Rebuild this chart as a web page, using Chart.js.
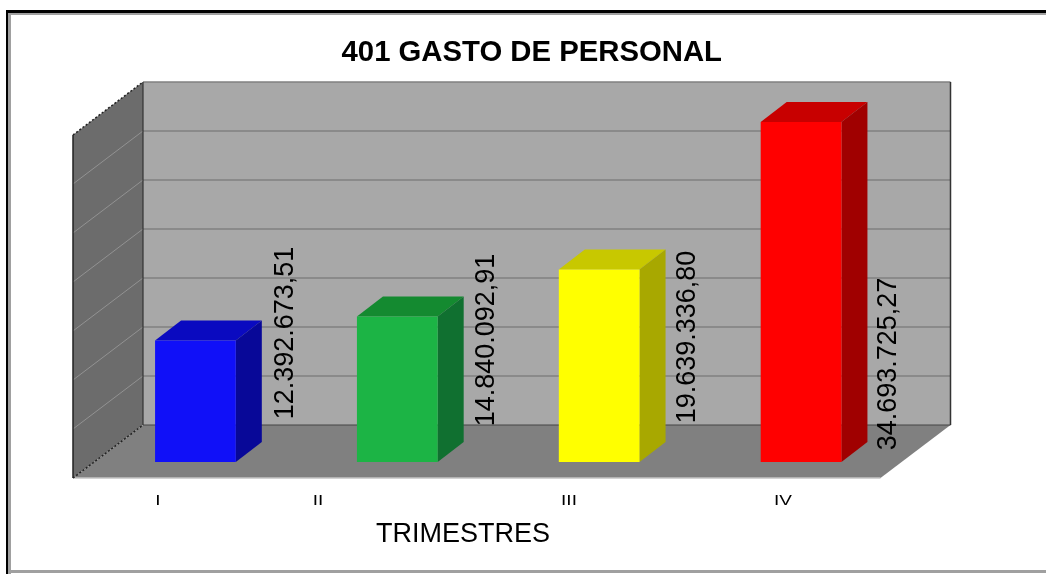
<!DOCTYPE html>
<html lang="es">
<head>
<meta charset="utf-8">
<title>401 GASTO DE PERSONAL</title>
<script src="https://cdn.jsdelivr.net/npm/chart.js"></script>
<style>
  html, body { margin: 0; padding: 0; background: #fff; }
  canvas { display: block; }
</style>
</head>
<body>
<canvas id="grafico" width="1046" height="574"></canvas>
<script>
// Datos
const trimestres = ['I', 'II', 'III', 'IV'];
const gasto = [12392673.51, 14840092.91, 19639336.80, 34693725.27];
const ticksY = [0, 5000000, 10000000, 15000000, 20000000, 25000000, 30000000, 35000000];

// Colores de cada barra
const colorFrente = ['#1010f8', '#1cb445', '#ffff00', '#ff0000'];
const colorLado = ['#080898', '#107030', '#a8a800', '#a00000'];
const colorTecho = ['#0a0ac0', '#148a30', '#c8c800', '#c80000'];

// Posiciones de los textos, como en el original no van alineados con las barras
const xEtiquetas = [158, 318, 569, 783];
const centroValores = [[286, 333], [487, 340], [688, 337], [889, 364]];

const FUENTE = '"Liberation Sans", Arial, sans-serif';
const fondo = { dx: 48.5, dy: -37 };   // pared del fondo respecto a la escala
const frente = { dx: -21.5, dy: 16 };  // borde delantero del suelo
const barra = { dx: 26, dy: -20 };     // profundidad de las barras

function poligono(ctx, puntos, color) {
    ctx.fillStyle = color;
    ctx.beginPath();
    puntos.forEach(([x, y], i) => (i ? ctx.lineTo(x, y) : ctx.moveTo(x, y)));
    ctx.closePath();
    ctx.fill();
}

function linea(ctx, x1, y1, x2, y2, color, ancho, guiones) {
    ctx.strokeStyle = color;
    ctx.lineWidth = ancho;
    ctx.setLineDash(guiones || []);
    ctx.beginPath();
    ctx.moveTo(x1, y1);
    ctx.lineTo(x2, y2);
    ctx.stroke();
    ctx.setLineDash([]);
}

const marco = {
    id: 'marco',
    beforeDraw(chart) {
        const ctx = chart.ctx;
        ctx.fillStyle = '#a0a0a0';
        ctx.fillRect(8, 13, 3, 561);
        ctx.fillRect(8, 13, 1038, 2);
        ctx.fillRect(8, 570, 1038, 3);
        ctx.fillStyle = '#000';
        ctx.fillRect(6, 10, 1040, 3);
        ctx.fillRect(6, 10, 2, 564);
    }
};

// Paredes, suelo y rejilla en falso 3D, a partir de las escalas
const caja = {
    id: 'caja',
    beforeDatasetsDraw(chart) {
        const { ctx, chartArea: a, scales: { y } } = chart;
        const cero = y.getPixelForValue(0);
        const tope = y.getPixelForValue(ticksY[ticksY.length - 1]);
        const bl = a.left + fondo.dx, br = a.right + fondo.dx;
        const fl = a.left + frente.dx, fr = a.right + frente.dx;
        const by0 = cero + fondo.dy, byT = tope + fondo.dy;
        const fy0 = cero + frente.dy, fyT = tope + frente.dy;

        poligono(ctx, [[bl, byT], [br, byT], [br, by0], [bl, by0]], '#a8a8a8');
        poligono(ctx, [[fl, fyT], [bl, byT], [bl, by0], [fl, fy0]], '#6c6c6c');
        poligono(ctx, [[fl, fy0], [bl, by0], [br, by0], [fr, fy0]], '#808080');

        ticksY.slice(1).forEach(v => {
            const yb = y.getPixelForValue(v) + fondo.dy;
            const yf = y.getPixelForValue(v) + frente.dy;
            linea(ctx, bl, yb, br, yb, '#808080', 1.5);
            if (v < ticksY[ticksY.length - 1]) linea(ctx, fl, yf, bl, yb, '#929292', 1);
        });

        linea(ctx, bl, by0, br, by0, '#444', 1.2);
        linea(ctx, bl, byT, bl, by0, '#333', 1.2);
        linea(ctx, br, byT, br, by0, '#333', 1.5);
        linea(ctx, fl, fyT, fl, fy0, '#222', 1.5);
        linea(ctx, fl, fy0, fr, fy0, '#c4c4c4', 1.5);
        linea(ctx, fl, fyT, bl, byT, '#222', 1.5, [2, 2]);
        linea(ctx, fl, fy0, bl, by0, '#222', 1.5, [2, 2]);

        chart.getDatasetMeta(0).data.forEach((el, i) => {
            const { x, y: yTop, base, width } = el.getProps(['x', 'y', 'base', 'width'], true);
            const l = x - width / 2, r = x + width / 2;
            poligono(ctx, [[l, yTop], [l + barra.dx, yTop + barra.dy], [r + barra.dx, yTop + barra.dy], [r, yTop]], colorTecho[i]);
            poligono(ctx, [[r, yTop], [r + barra.dx, yTop + barra.dy], [r + barra.dx, base + barra.dy], [r, base]], colorLado[i]);
        });
    },
    afterDraw(chart) {
        const ctx = chart.ctx;
        ctx.save();
        ctx.fillStyle = '#000';
        ctx.textBaseline = 'middle';
        ctx.textAlign = 'center';

        // Valores en vertical
        ctx.font = '27px ' + FUENTE;
        gasto.forEach((v, i) => {
            const texto = v.toLocaleString('es-ES', { minimumFractionDigits: 2, maximumFractionDigits: 2 });
            ctx.save();
            ctx.translate(centroValores[i][0], centroValores[i][1]);
            ctx.rotate(-Math.PI / 2);
            ctx.fillText(texto, 0, 0);
            ctx.restore();
        });

        // Etiquetas del eje, algo aplastadas como en la imagen
        ctx.font = '19px ' + FUENTE;
        trimestres.forEach((t, i) => {
            ctx.save();
            ctx.translate(xEtiquetas[i], 501);
            ctx.scale(1, 0.78);
            ctx.fillText(t, 0, 0);
            ctx.restore();
        });

        // Título del eje
        ctx.font = '27px ' + FUENTE;
        ctx.fillText('TRIMESTRES', 463, 535);
        ctx.restore();
    },
    afterLayout(chart) {
        // El título va centrado en 532, no en el centro del área
        chart.titleBlock.left += 67;
    }
};

new Chart(document.getElementById('grafico'), {
    type: 'bar',
    data: {
        labels: trimestres,
        datasets: [{
            data: gasto,
            backgroundColor: colorFrente,
            categoryPercentage: 1,
            barPercentage: 0.4,
            borderWidth: 0
        }]
    },
    options: {
        responsive: false,
        animation: false,
        layout: { padding: { left: 94.5, right: 144, top: 0, bottom: 112 } },
        plugins: {
            legend: { display: false },
            tooltip: { enabled: false },
            title: {
                display: true,
                text: '401 GASTO DE PERSONAL',
                color: '#000',
                font: { family: 'Liberation Sans', size: 29.3, weight: 'bold' },
                padding: { top: 35, bottom: 48.8 }
            }
        },
        scales: {
            x: { display: false },
            y: { display: false, min: 0, max: 35000000, ticks: { stepSize: 5000000 } }
        }
    },
    plugins: [marco, caja]
});
</script>
</body>
</html>
